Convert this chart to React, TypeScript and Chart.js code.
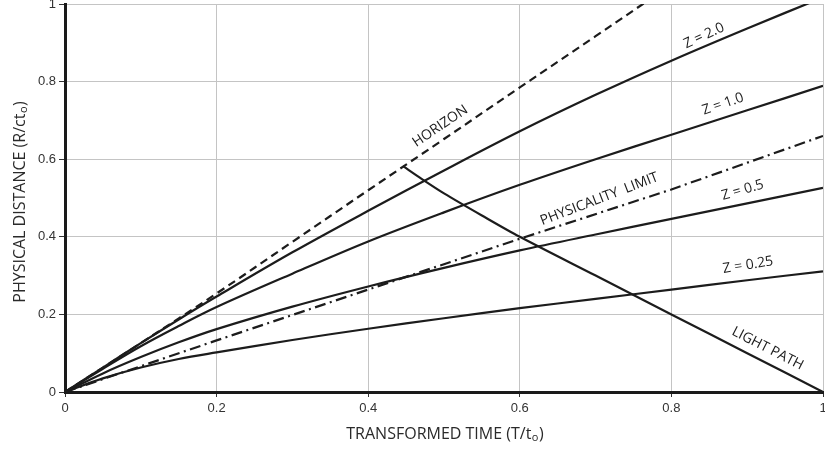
import React, { useEffect, useRef } from "react";
import { Chart, registerables } from "chart.js";

Chart.register(...registerables);

// ---- data ----
const horizonT = [0, 0.05, 0.1, 0.2, 0.3, 0.4, 0.5, 0.6, 0.7, 0.8];
const horizonR = [0, 0.063, 0.126, 0.254, 0.387, 0.52, 0.652, 0.785, 0.917, 1.05];

const zT = [0, 0.05, 0.1, 0.15, 0.2, 0.3, 0.4, 0.5, 0.6, 0.7, 0.8, 0.9, 1.0];
const z2R = [0, 0.063, 0.126, 0.187, 0.246, 0.36, 0.467, 0.571, 0.672, 0.766, 0.854, 0.937, 1.017];
const z1R = [0, 0.06, 0.118, 0.17, 0.219, 0.305, 0.388, 0.463, 0.534, 0.6, 0.663, 0.726, 0.789];
const z05R = [0, 0.048, 0.09, 0.128, 0.162, 0.22, 0.272, 0.32, 0.365, 0.406, 0.446, 0.486, 0.526];
const z025R = [0, 0.035, 0.063, 0.085, 0.102, 0.134, 0.163, 0.19, 0.216, 0.24, 0.264, 0.288, 0.311];

const limitT = [0, 0.2, 0.4, 0.6, 0.8, 1.0];
const limitR = [0, 0.133, 0.264, 0.395, 0.522, 0.66];

const lightT = [0.446, 0.47, 0.5, 0.55, 0.6, 0.7, 0.8, 0.9, 1.0];
const lightR = [0.582, 0.55, 0.512, 0.455, 0.4, 0.3, 0.2, 0.1, 0];

const tickValues = [0, 0.2, 0.4, 0.6, 0.8, 1];
const tickLabels = ["0", "0.2", "0.4", "0.6", "0.8", "1"];

// curve labels: text, anchor in data units, angle in degrees
const curveLabels = [
  { text: "HORIZON", t: 0.495, r: 0.685, angle: -34 },
  { text: "Z = 2.0", t: 0.843, r: 0.918, angle: -25 },
  { text: "Z = 1.0", t: 0.868, r: 0.742, angle: -19 },
  { text: "PHYSICALITY  LIMIT", t: 0.705, r: 0.497, angle: -21 },
  { text: "Z = 0.5", t: 0.894, r: 0.52, angle: -16 },
  { text: "Z = 0.25", t: 0.901, r: 0.327, angle: -9 },
  { text: "LIGHT PATH", t: 0.927, r: 0.112, angle: 27 },
];

const xTitleMain = "TRANSFORMED TIME (T/t";
const yTitleMain = "PHYSICAL DISTANCE (R/ct";
const titleSub = "o";
const titleEnd = ")";

const toPts = (xs: number[], ys: number[]) => xs.map((x, i) => ({ x, y: ys[i] }));

const INK = "#1c1c1c";
const LABEL_FONT = '14px "Open Sans", "DejaVu Sans", sans-serif';
const TITLE_FONT = '16px "Open Sans", "DejaVu Sans", sans-serif';
const SUB_FONT = '11px "Open Sans", "DejaVu Sans", sans-serif';

function drawSubTitle(ctx: CanvasRenderingContext2D, cx: number, cy: number, rot: number, main: string) {
  ctx.save();
  ctx.translate(cx, cy);
  ctx.rotate(rot);
  ctx.fillStyle = "#2a2a2a";
  ctx.textBaseline = "middle";
  ctx.textAlign = "left";
  ctx.font = TITLE_FONT;
  const w1 = ctx.measureText(main).width;
  const w3 = ctx.measureText(titleEnd).width;
  ctx.font = SUB_FONT;
  const w2 = ctx.measureText(titleSub).width;
  const total = w1 + w2 + w3 + 1;
  let x = -total / 2;
  ctx.font = TITLE_FONT;
  ctx.fillText(main, x, 0);
  x += w1;
  ctx.font = SUB_FONT;
  ctx.fillText(titleSub, x + 0.5, 4);
  x += w2 + 1;
  ctx.font = TITLE_FONT;
  ctx.fillText(titleEnd, x, 0);
  ctx.restore();
}

const textPlugin = {
  id: "curveText",
  afterDraw(chart: any) {
    const ctx: CanvasRenderingContext2D = chart.ctx;
    const xs = chart.scales.x;
    const ys = chart.scales.y;
    const area = chart.chartArea;
    ctx.save();
    ctx.font = LABEL_FONT;
    ctx.fillStyle = INK;
    ctx.textAlign = "center";
    ctx.textBaseline = "middle";
    for (const l of curveLabels) {
      const px = xs.getPixelForValue(l.t);
      const py = ys.getPixelForValue(l.r);
      ctx.save();
      ctx.translate(px, py);
      ctx.rotate((l.angle * Math.PI) / 180);
      ctx.fillText(l.text, 0, 0);
      ctx.restore();
    }
    ctx.restore();
    drawSubTitle(ctx, (area.left + area.right) / 2 + 1, 434, 0, xTitleMain);
    drawSubTitle(ctx, 20, 202, -Math.PI / 2, yTitleMain);
  },
};

const fmt = (v: any) => {
  const i = tickValues.findIndex((t) => Math.abs(t - Number(v)) < 1e-9);
  return i >= 0 ? tickLabels[i] : String(v);
};

export default function App() {
  const ref = useRef<HTMLCanvasElement | null>(null);

  useEffect(() => {
    if (!ref.current) return;
    const common = {
      pointRadius: 0,
      borderColor: INK,
      borderWidth: 2.2,
      fill: false,
      tension: 0.35,
    };
    const chart = new Chart(ref.current, {
      type: "line",
      data: {
        datasets: [
          { ...common, label: "Horizon", data: toPts(horizonT, horizonR), borderDash: [8, 5] },
          { ...common, label: "Z = 2.0", data: toPts(zT, z2R) },
          { ...common, label: "Z = 1.0", data: toPts(zT, z1R) },
          { ...common, label: "Physicality limit", data: toPts(limitT, limitR), borderDash: [11, 4.5, 2, 4.5], tension: 0 },
          { ...common, label: "Z = 0.5", data: toPts(zT, z05R) },
          { ...common, label: "Z = 0.25", data: toPts(zT, z025R) },
          { ...common, label: "Light path", data: toPts(lightT, lightR), tension: 0.3 },
        ],
      },
      options: {
        animation: false,
        responsive: false,
        maintainAspectRatio: false,
        layout: { padding: { left: 0, top: 4, right: 2, bottom: 0 } },
        plugins: { legend: { display: false }, tooltip: { enabled: false } },
        scales: {
          x: {
            type: "linear",
            min: 0,
            max: 1,
            afterBuildTicks: (s: any) => {
              s.ticks = tickValues.map((v) => ({ value: v }));
            },
            afterFit: (s: any) => {
              s.height = 58;
              s.paddingLeft = 0;
              s.paddingRight = 0;
            },
            ticks: {
              color: "#333",
              font: { family: '"Liberation Sans", Arial, sans-serif', size: 13 },
              padding: 4,
              maxRotation: 0,
              callback: fmt,
            },
            grid: { color: "#c4c4c4", tickColor: "#333", tickLength: 5, lineWidth: 1 },
            border: { color: "#1a1a1a", width: 3 },
          },
          y: {
            type: "linear",
            min: 0,
            max: 1,
            afterBuildTicks: (s: any) => {
              s.ticks = tickValues.map((v) => ({ value: v }));
            },
            afterFit: (s: any) => {
              s.width = 65;
              s.paddingTop = 0;
              s.paddingBottom = 0;
            },
            ticks: {
              color: "#333",
              font: { family: '"Liberation Sans", Arial, sans-serif', size: 13 },
              padding: 3,
              callback: fmt,
            },
            grid: { color: "#c4c4c4", tickColor: "#333", tickLength: 6, lineWidth: 1 },
            border: { color: "#1a1a1a", width: 3 },
          },
        },
      },
      plugins: [textPlugin],
    });
    return () => chart.destroy();
  }, []);

  return (
    <div style={{ position: "fixed", left: 0, top: 0, width: 825, height: 450, background: "#fff" }}>
      <canvas ref={ref} width={825} height={450} style={{ width: 825, height: 450 }} />
    </div>
  );
}
